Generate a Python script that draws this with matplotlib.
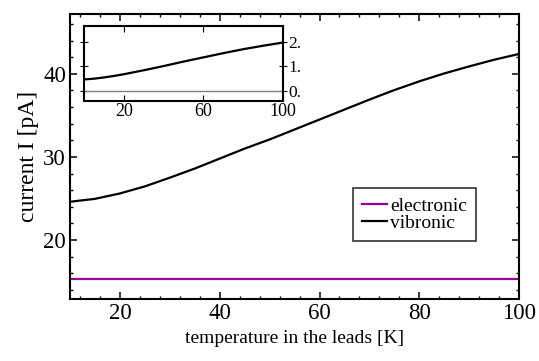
import matplotlib
matplotlib.use('Agg')
import matplotlib.pyplot as plt
from matplotlib.ticker import MultipleLocator, FixedLocator, FuncFormatter

plt.rcParams['font.family'] = ['Liberation Serif', 'DejaVu Serif']

# main panel: current vs lead temperature
temp = [10, 15, 20, 25, 30, 35, 40, 45, 50, 55, 60, 65, 70, 75, 80, 85, 90, 95, 100]
vibronic = [24.6, 24.95, 25.6, 26.45, 27.5, 28.6, 29.8, 31.0, 32.1, 33.3, 34.5,
            35.7, 36.9, 38.05, 39.1, 40.05, 40.9, 41.7, 42.4]
electronic_level = 15.27

# inset
inset_temp = [0, 5, 10, 15, 20, 30, 40, 50, 60, 70, 80, 90, 100]
inset_vib = [0.47, 0.50, 0.55, 0.61, 0.68, 0.84, 1.01, 1.19, 1.36, 1.53, 1.69, 1.83, 1.96]
inset_ref = [0, 0]

purple = '#990099'

fig = plt.figure(figsize=(5.39, 3.61), dpi=100)
ax = fig.add_axes([0.130, 0.172, 0.833, 0.789])

ax.plot([temp[0], temp[-1]], [electronic_level, electronic_level], color=purple, lw=1.6, label='electronic')
ax.plot(temp, vibronic, color='k', lw=1.6, label='vibronic')

ax.set_xlim(10, 100)
ax.set_ylim(12.9, 47.2)
ax.xaxis.set_major_locator(MultipleLocator(20))
ax.xaxis.set_minor_locator(MultipleLocator(4))
ax.yaxis.set_major_locator(MultipleLocator(10))
ax.yaxis.set_minor_locator(MultipleLocator(2))
ax.tick_params(which='both', direction='in', top=True, right=True, labelsize=16.5)
ax.tick_params(which='major', length=5, width=1.1, pad=3)
ax.tick_params(which='minor', length=2.5, width=1.0)
for s in ax.spines.values():
    s.set_linewidth(1.5)

ax.set_xlabel('temperature in the leads [K]', fontsize=14, labelpad=4)
ax.set_ylabel('current I [pA]', fontsize=17, labelpad=3)

leg = ax.legend(loc='lower left', bbox_to_anchor=(0.630, 0.2035), fontsize=14,
                frameon=True, fancybox=False, edgecolor='k', handlelength=1.3,
                handletextpad=0.15, borderpad=0.45, labelspacing=0.0,
                borderaxespad=0)
leg.get_frame().set_linewidth(1.2)

# inset
axi = fig.add_axes([0.156, 0.719, 0.3685, 0.209])
axi.plot([inset_temp[0], inset_temp[-1]], inset_ref, color='#808080', lw=1.0)
axi.plot(inset_temp, inset_vib, color='k', lw=1.6)
axi.set_xlim(0, 100)
axi.set_ylim(-0.42, 2.63)
axi.xaxis.set_major_locator(FixedLocator([20, 60, 100]))
axi.yaxis.set_major_locator(FixedLocator([0, 1, 2]))
axi.yaxis.set_major_formatter(FuncFormatter(lambda v, p: '%d.' % v))
axi.tick_params(axis='x', direction='in', top=True, labelsize=13, length=4, pad=1)
axi.tick_params(axis='y', direction='inout', left=True, right=True, labelleft=False,
                labelright=True, labelsize=12.5, length=6, pad=1)
for s in axi.spines.values():
    s.set_linewidth(1.5)

fig.savefig('out.png', dpi=100)
